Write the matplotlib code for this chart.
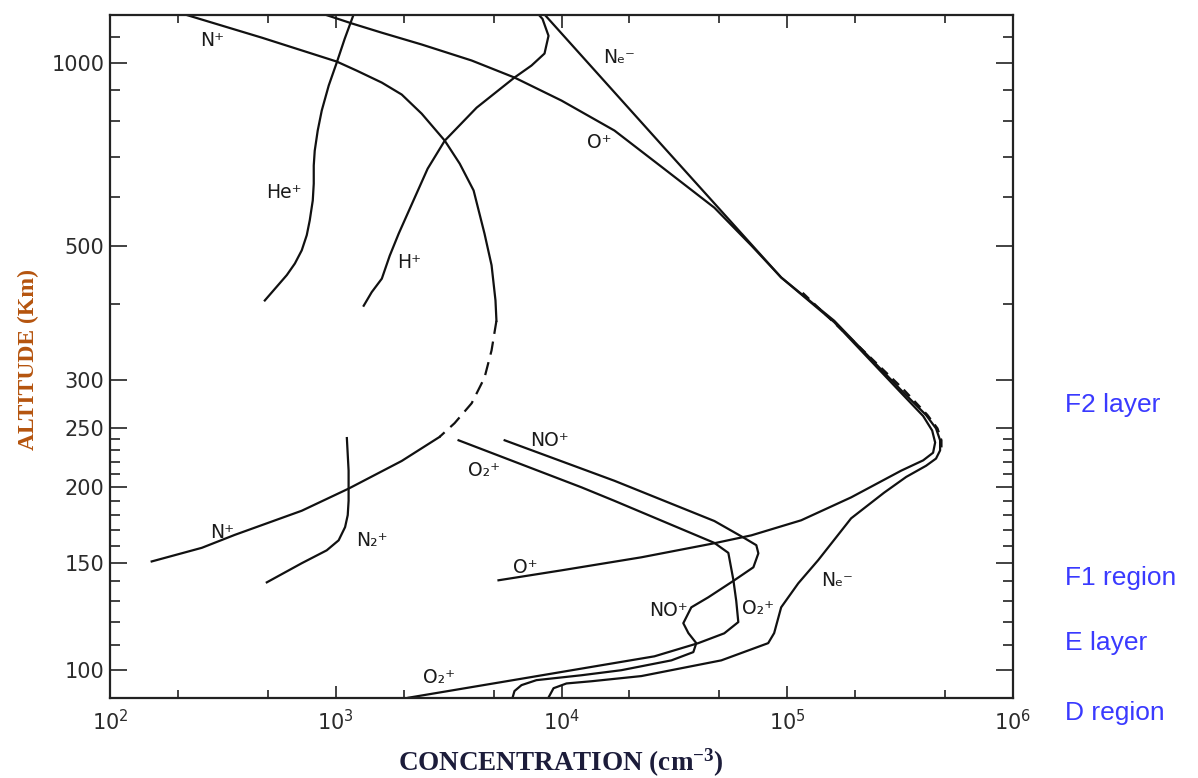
import matplotlib
matplotlib.use("Agg")
import matplotlib.pyplot as plt
from matplotlib.ticker import FixedLocator, FixedFormatter, NullFormatter, LogLocator

# concentration (cm^-3) and altitude (km)
n_plus_up_c = [215, 471, 1010, 1239, 1600, 1960, 2403, 3040, 3540, 4080, 4560,
               4900, 5100, 5150]
n_plus_up_h = [1200, 1099, 1004, 970, 927, 886, 824, 744, 682, 616, 523,
               464, 406, 376]
n_plus_dash_c = [5150, 4900, 4560, 4000, 3360, 2880]
n_plus_dash_h = [376, 336, 303, 275, 255, 242]
n_plus_low_c = [2880, 1960, 1140, 707, 357, 255, 153]
n_plus_low_h = [242, 221, 199, 183, 167, 159, 151]

he_c = [1200, 1096, 1010, 931, 867, 832, 807, 799, 799, 791, 767, 744, 707,
        659, 607, 485]
he_h = [1200, 1095, 1000, 917, 834, 773, 716, 677, 632, 593, 550, 520, 491,
        467, 447, 406]

h_c = [1330, 1443, 1600, 1734, 1900, 2240, 2553, 3040, 4207, 6190, 7365, 8410,
       8760, 8240, 7910]
h_h = [398, 419, 441, 481, 523, 600, 669, 744, 843, 945, 989, 1035,
       1107, 1180, 1200]

o_plus_c = [894, 1178, 1600, 2403, 3999, 6190, 10000, 17160, 27700, 47560,
            69340, 93970, 161400, 319500, 400000, 438500, 452000, 442600,
            400000, 319500, 191800, 115300, 69340, 47560, 22590, 10000, 5260]
o_plus_h = [1200, 1160, 1120, 1071, 1008, 945, 866, 773, 674, 577,
            500, 443, 374, 286, 262, 248, 237, 228,
            221.5, 213, 192.5, 176.5, 166.7, 161.8, 153.4, 146.0, 140.6]

ne_c = [8410, 27700, 93970, 161400, 319500, 412000, 456000, 475400, 475400,
        456000, 412000, 336300, 268700, 191800, 137000, 111900, 93970, 87500,
        82330, 51050, 22590, 13580, 10520, 9220, 8750]
ne_h = [1200, 733, 443, 376, 289, 263, 250, 239, 230,
        223, 217, 208, 196, 177.8, 151.7, 139, 126.9, 115.1,
        110.8, 103.8, 97.8, 95.9, 95.1, 93.4, 90.1]

# dashed total near the F2 peak
tot_c = [117000, 195000, 324000, 418000, 463000, 482000, 482000]
tot_h = [418, 349, 291, 263, 250, 239, 230]

o2_c = [3500, 12250, 17160, 47560, 54830, 57680, 59440, 60700, 52600, 40360,
        25800, 15030, 5430, 2100]
o2_h = [239, 200, 190, 162, 156, 141, 130, 120, 115, 110.8,
        105.4, 101.9, 95.6, 90.1]

no_c = [5600, 17160, 47560, 64560, 72950, 74470, 70790, 58260, 44670, 37580,
        34640, 36480, 39540, 38370, 30690, 18410, 12250, 7745, 6650, 6190, 6070]
no_h = [239, 205, 176, 165, 160.6, 155.7, 147.7, 140.6, 131.8, 126.9,
        119.5, 115.1, 110.8, 107.1, 103.8, 100, 98.1, 96.3, 94.5, 92.4, 90.1]

n2_c = [1120, 1140, 1140, 1130, 1100, 1030, 912, 707, 495]
n2_h = [241, 213, 190, 180, 172, 163.6, 157.5, 150, 139.5]

labels = ["N⁺", "He⁺", "H⁺", "O⁺", "Nₑ⁻", "NO⁺", "O₂⁺", "N⁺", "N₂⁺", "O⁺",
          "NO⁺", "O₂⁺", "Nₑ⁻", "O₂⁺"]
label_c = [283, 589, 2124, 14730, 18070, 8850, 4520, 313, 1443, 6930,
           29720, 74470, 166400, 2856]
label_h = [1087, 611, 469, 738, 1019, 239, 213, 168.6, 163.6, 147.7,
           125.5, 126.4, 140.6, 97.4]

y_major = [100, 150, 200, 250, 300, 500, 1000]
y_minor = [110, 120, 130, 140, 160, 170, 180, 190, 210, 220, 230, 240,
           400, 600, 700, 800, 900, 1100]

regions = ["F2 layer", "F1 region", "E layer", "D region"]
region_y = [405, 578, 643, 713]  # pixel rows in the original

fig = plt.figure(figsize=(11.98, 7.78), dpi=100)
ax = fig.add_axes([110/1198, 80/778, 903/1198, 683.5/778])

lw = 1.6
k = "#111111"
ax.plot(n_plus_up_c, n_plus_up_h, color=k, lw=lw)
ax.plot(n_plus_dash_c, n_plus_dash_h, color=k, lw=lw, ls=(0, (6, 3.5)))
ax.plot(n_plus_low_c, n_plus_low_h, color=k, lw=lw)
ax.plot(he_c, he_h, color=k, lw=lw)
ax.plot(h_c, h_h, color=k, lw=lw)
ax.plot(o_plus_c, o_plus_h, color=k, lw=lw)
ax.plot(ne_c, ne_h, color=k, lw=lw)
ax.plot(tot_c, tot_h, color=k, lw=lw, ls=(0, (4, 3)))
ax.plot(o2_c, o2_h, color=k, lw=lw)
ax.plot(no_c, no_h, color=k, lw=lw)
ax.plot(n2_c, n2_h, color=k, lw=lw)

for t, c, h in zip(labels, label_c, label_h):
    ax.text(c, h, t, fontsize=13.5, ha="center", va="center", color="#1a1a1a")

ax.set_xscale("log")
ax.set_yscale("log")
ax.set_xlim(1e2, 1e6)
ax.set_ylim(90, 1200)

ax.xaxis.set_major_locator(LogLocator(base=10))
ax.xaxis.set_minor_locator(LogLocator(base=10, subs=(2, 5)))
ax.xaxis.set_minor_formatter(NullFormatter())
ax.yaxis.set_major_locator(FixedLocator(y_major))
ax.yaxis.set_major_formatter(FixedFormatter([str(v) for v in y_major]))
ax.yaxis.set_minor_locator(FixedLocator(y_minor))
ax.yaxis.set_minor_formatter(NullFormatter())

ax.tick_params(axis="both", which="both", direction="in", top=True, right=True,
               colors="#222222", width=1.2, labelsize=15, labelcolor="#2b2b2b")
ax.tick_params(axis="y", which="major", length=12, pad=4)
ax.tick_params(axis="y", which="minor", length=7)
ax.tick_params(axis="x", which="major", length=9, pad=8)
ax.tick_params(axis="x", which="minor", length=6)
for s in ax.spines.values():
    s.set_linewidth(1.6)
    s.set_color("#222222")

fig.text(28/1198, 1 - 360/778, "ALTITUDE (Km)", rotation=90, ha="center",
         va="center", fontsize=17, fontweight="bold", family="Liberation Serif",
         color="#b5540e")
fig.text(561/1198, 1 - 763/778, r"CONCENTRATION (cm$\mathdefault{^{-3}}$)",
         ha="center", va="center", fontsize=19.5, fontweight="bold",
         family="Liberation Serif", color="#1c1c3a")

for t, py in zip(regions, region_y):
    fig.text(1065/1198, 1 - py/778, t, ha="left", va="center", fontsize=19,
             family="Liberation Sans", color="#3a3aff")

fig.savefig("out.png", dpi=100)
